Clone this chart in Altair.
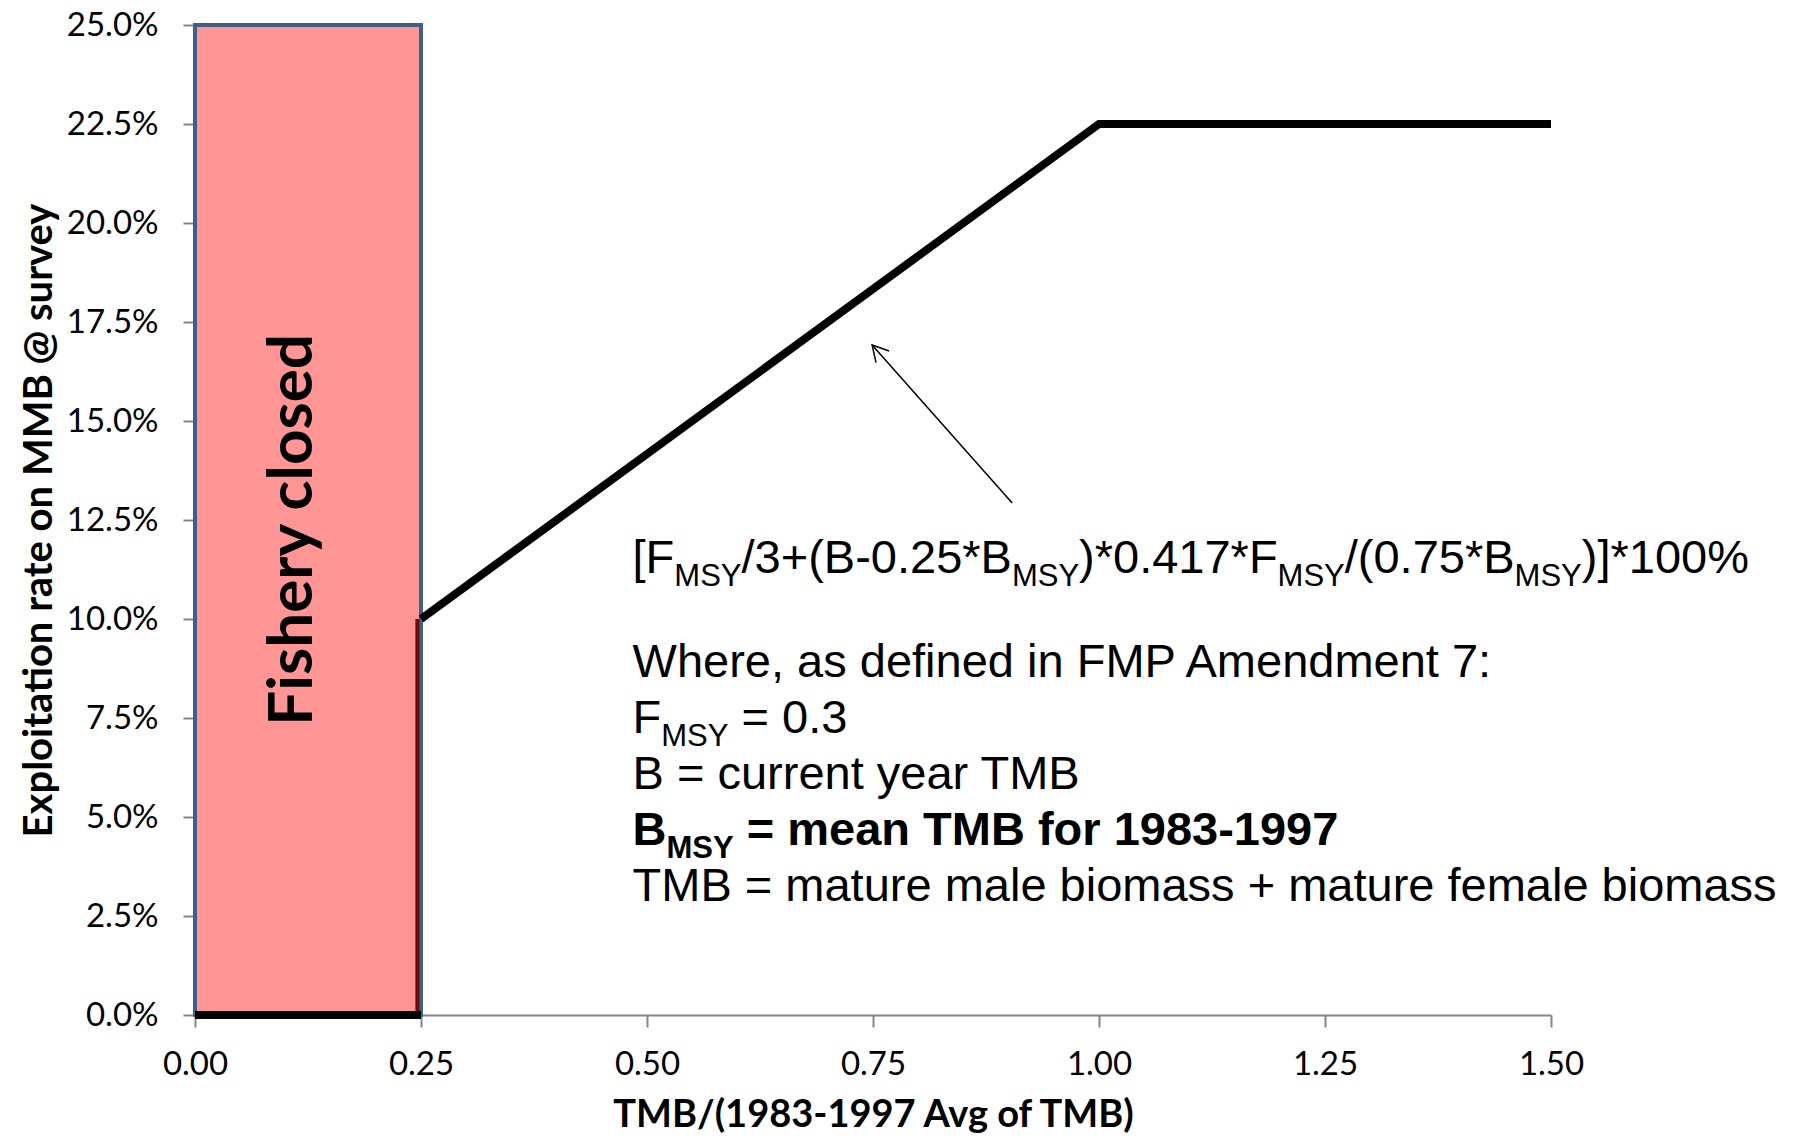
import altair as alt
import pandas as pd

# --- values -------------------------------------------------------------
# closed-fishery zone (x from / to, y from / to)
zone_x = [0.0, 0.25]
zone_y = [0.0, 0.25]
zone_label = "Fishery closed"
zone_label_x = [0.108]
zone_label_y = [0.1225]

# harvest control rule: zero below 0.25, ramp to 22.5% at 1.0, flat after
closed_x = [0.0, 0.25]
closed_y = [0.0, 0.0]
step_x = [0.246]
step_y = [0.0]
step_y2 = [0.10]
rule_x = [0.25, 1.00, 1.50]
rule_y = [0.10, 0.225, 0.225]

# annotation arrow (tail, head)
arrow_x = [0.904, 0.749]
arrow_y = [0.1293, 0.1692]

x_ticks = [0.0, 0.25, 0.5, 0.75, 1.0, 1.25, 1.5]
y_ticks = [0.0, 0.025, 0.05, 0.075, 0.1, 0.125, 0.15, 0.175, 0.2, 0.225, 0.25]

# note text, one list of (text, role) pieces per line
note_lines = [
    [("[F", "main"), ("MSY", "sub"), ("/3+(B-0.25*B", "main"), ("MSY", "sub"),
     (")*0.417*F", "main"), ("MSY", "sub"), ("/(0.75*B", "main"), ("MSY", "sub"),
     (")]*100%", "main")],
    [("Where, as defined in FMP Amendment 7:", "main")],
    [("F", "main"), ("MSY", "sub"), (" = 0.3", "main")],
    [("B = current year TMB", "main")],
    [("B", "bold"), ("MSY", "boldsub"), (" = mean TMB for 1983-1997", "bold")],
    [("TMB = mature male biomass + mature female biomass", "main")],
]
note_x = 0.484
note_y = [0.1116, 0.0854, 0.0712, 0.0571, 0.0429, 0.0288]

# --- layout ---------------------------------------------------------------
W, H = 1356, 990
X_MAX = 1.5
PX_PER_UNIT = W / X_MAX
MAIN_SIZE, SUB_SIZE = 47, 31

# Arial / Liberation Sans advance widths (per 1000 em) for the glyphs that
# sit in front of another piece on the same line
ARIAL = {"[": 278, "]": 278, "F": 611, "M": 833, "S": 667, "Y": 667, "/": 278,
         "3": 556, "+": 584, "(": 333, ")": 333, "B": 667, "-": 333, "0": 556,
         ".": 278, "2": 556, "5": 556, "*": 389, "4": 556, "1": 556, "7": 556,
         "%": 889, " ": 278}
ARIAL_BOLD = dict(ARIAL, B=722)


def piece_width(text, role):
    table = ARIAL_BOLD if role.startswith("bold") else ARIAL
    size = SUB_SIZE if role.endswith("sub") else MAIN_SIZE
    return sum(table.get(c, 556) for c in text) * size / 1000


rows = []
for line, y in zip(note_lines, note_y):
    cursor = 0.0
    for text, role in line:
        stripped = text.lstrip(" ")
        cursor += piece_width(text[: len(text) - len(stripped)], role)
        rows.append({"x": note_x + cursor / PX_PER_UNIT, "y": y,
                     "text": stripped, "role": role,
                     "size": SUB_SIZE if role.endswith("sub") else MAIN_SIZE})
        cursor += piece_width(stripped, role)
notes = pd.DataFrame(rows)

x_scale = alt.Scale(domain=[0, X_MAX], nice=False, zero=False)
y_scale = alt.Scale(domain=[0, 0.25], nice=False, zero=False)

x_axis = alt.Axis(values=x_ticks, format=".2f", title="TMB/(1983-1997 Avg of TMB)",
                  grid=False, labelFlush=False, labelPadding=21, titlePadding=15,
                  titleFontSize=38)
y_axis = alt.Axis(values=y_ticks, format=".1%", title="Exploitation rate on MMB @ survey",
                  grid=False, labelPadding=25, titlePadding=7, titleFontSize=40)


def xq(field):
    return alt.X(field, type="quantitative", scale=x_scale, axis=x_axis)


def yq(field):
    return alt.Y(field, type="quantitative", scale=y_scale, axis=y_axis)


zone = alt.Chart(pd.DataFrame({"x": [zone_x[0]], "x2": [zone_x[1]],
                               "y": [zone_y[0]], "y2": [zone_y[1]]})).mark_rect(
    color="#FF9595", stroke="#3E5F8A", strokeWidth=4
).encode(x=xq("x"), x2="x2", y=yq("y"), y2="y2")

step = alt.Chart(pd.DataFrame({"x": step_x, "y": step_y, "y2": step_y2})).mark_rule(
    color="#6B0A0A", strokeWidth=4
).encode(x=xq("x"), y=yq("y"), y2="y2")

closed = alt.Chart(pd.DataFrame({"x": closed_x, "y": closed_y})).mark_line(
    color="black", strokeWidth=8
).encode(x=xq("x"), y=yq("y"))

rule = alt.Chart(pd.DataFrame({"x": rule_x, "y": rule_y})).mark_line(
    color="black", strokeWidth=8, strokeJoin="miter"
).encode(x=xq("x"), y=yq("y"))

arrow = alt.Chart(pd.DataFrame({"x": arrow_x, "y": arrow_y})).mark_line(
    color="black", strokeWidth=1.5
).encode(x=xq("x"), y=yq("y"))

head = alt.Chart(pd.DataFrame({"x": arrow_x[1:], "y": arrow_y[1:]})).mark_point(
    shape="M -0.55 1 L 0 0 L 0.55 1", filled=False, color="black",
    strokeWidth=1.5, size=1000, angle=318.5, opacity=1
).encode(x=xq("x"), y=yq("y"))

zone_text = alt.Chart(pd.DataFrame({"x": zone_label_x, "y": zone_label_y,
                                    "t": [zone_label]})).mark_text(
    angle=270, font="Lato", fontWeight="bold", fontSize=62, color="black",
    align="center", baseline="middle"
).encode(x=xq("x"), y=yq("y"), text="t:N")


def note_layer(role, bold, dy):
    return alt.Chart(notes).transform_filter(alt.datum.role == role).mark_text(
        font="Liberation Sans", fontWeight="bold" if bold else "normal",
        align="left", baseline="alphabetic", color="black", dy=dy
    ).encode(x=xq("x"), y=yq("y"), text="text:N", size=alt.Size("size:Q", scale=None))


chart = alt.layer(
    zone, step, closed, rule, arrow, head, zone_text,
    note_layer("main", False, 0), note_layer("sub", False, 13),
    note_layer("bold", True, 0), note_layer("boldsub", True, 13),
).properties(
    width=W, height=H,
    autosize=alt.AutoSizeParams(type="none"),
    padding={"left": 187, "top": 17, "right": 230, "bottom": 119},
).configure_view(stroke=None).configure_axis(
    labelFont="Lato", labelFontSize=33, labelColor="black",
    titleFont="Lato", titleFontWeight="bold", titleColor="black",
    domainColor="#868686", domainWidth=2, tickColor="#868686", tickWidth=2, tickSize=12,
)

chart.save("out.html", embed_options={"renderer": "svg", "actions": False})
